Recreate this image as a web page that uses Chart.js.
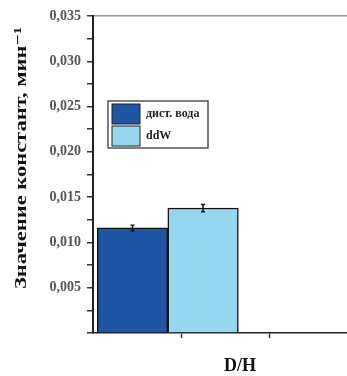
<!DOCTYPE html>
<html>
<head>
<meta charset="utf-8">
<script src="https://cdn.jsdelivr.net/npm/chart.js@4/dist/chart.umd.min.js"></script>
<style>
  html, body { margin: 0; padding: 0; background: #fff; }
  #wrap { width: 347px; height: 376px; }
</style>
</head>
<body>
<div id="wrap"><canvas id="barChart"></canvas></div>
<script>
const seriesNames = ['дист. вода', 'ddW'];
const seriesValues = [0.0116, 0.0138];
const seriesErrors = [0.0003, 0.0004];
const seriesColors = ['#1e55a5', '#96d7f0'];
const yTicks = [0, 0.005, 0.010, 0.015, 0.020, 0.025, 0.030, 0.035];
const yTitle = 'Значение констант, мин⁻¹';
const xTitle = 'D/H';

const serif = '"Liberation Serif", "DejaVu Serif", serif';

// error bars on top of each bar
const errorBars = {
    id: 'errorBars',
    afterDatasetsDraw(chart) {
        const ctx = chart.ctx;
        const y = chart.scales.y;
        ctx.save();
        ctx.strokeStyle = '#111';
        ctx.lineWidth = 1.5;
        chart.data.datasets.forEach((ds, i) => {
            const bar = chart.getDatasetMeta(i).data[0];
            const v = seriesValues[i], e = seriesErrors[i];
            const top = y.getPixelForValue(v + e), bot = y.getPixelForValue(v - e);
            ctx.beginPath();
            ctx.moveTo(bar.x, top); ctx.lineTo(bar.x, bot);
            ctx.moveTo(bar.x - 2, top); ctx.lineTo(bar.x + 2, top);
            ctx.moveTo(bar.x - 2, bot); ctx.lineTo(bar.x + 2, bot);
            ctx.stroke();
        });
        ctx.restore();
    }
};

// boxed legend inside the plot + axis titles placed like the original
const boxLegend = {
    id: 'boxLegend',
    afterDraw(chart) {
        const ctx = chart.ctx;
        const x0 = 108, y0 = 101, w = 100, h = 47;
        ctx.save();
        ctx.fillStyle = '#fff';
        ctx.fillRect(x0, y0, w, h);
        ctx.strokeStyle = '#555';
        ctx.lineWidth = 1.5;
        ctx.strokeRect(x0, y0, w, h);
        ctx.font = 'bold 12px ' + serif;
        ctx.textBaseline = 'middle';
        seriesNames.forEach((name, i) => {
            const sy = y0 + 3 + i * 22;
            ctx.fillStyle = seriesColors[i];
            ctx.fillRect(x0 + 4, sy, 28, 20);
            ctx.strokeStyle = '#222';
            ctx.lineWidth = 1;
            ctx.strokeRect(x0 + 4, sy, 28, 20);
            ctx.fillStyle = '#222';
            ctx.fillText(name, x0 + 38, sy + 10);
        });

        // y title, stretched along the axis as in the source figure
        ctx.fillStyle = '#111';
        ctx.font = 'bold 17px ' + serif;
        ctx.textAlign = 'center';
        ctx.save();
        ctx.translate(22, 158);
        ctx.rotate(-Math.PI / 2);
        const tw = ctx.measureText(yTitle).width;
        ctx.scale(262 / tw, 1);
        ctx.fillText(yTitle, 0, 0);
        ctx.restore();

        ctx.font = 'bold 18px ' + serif;
        ctx.fillText(xTitle, 240, 366);
        ctx.restore();
    }
};

new Chart(document.getElementById('barChart'), {
    type: 'bar',
    data: {
        datasets: seriesNames.map((name, i) => ({
            label: name,
            data: [{ x: i, y: seriesValues[i] }],
            backgroundColor: seriesColors[i],
            borderColor: '#111',
            borderWidth: 1.5,
            borderSkipped: 'bottom',
            barPercentage: 1,
            categoryPercentage: 1,
            grouped: false
        }))
    },
    options: {
        responsive: true,
        maintainAspectRatio: false,
        animation: false,
        layout: { padding: { top: 16, right: 0, bottom: 0, left: 0 } },
        plugins: {
            legend: { display: false },
            tooltip: { enabled: false }
        },
        scales: {
            x: {
                type: 'linear',
                offset: false,
                min: -0.56,
                max: 3.04,
                afterBuildTicks: function(scale) {
                    scale.ticks = [{ value: scale.min + 1.25 }, { value: scale.min + 2.5 }];
                },
                afterFit: function(scale) { scale.height = 43; },
                ticks: { callback: () => '', padding: 0 },
                grid: { offset: false, drawOnChartArea: false, tickLength: 5, tickColor: '#333', tickWidth: 1.5 },
                border: { color: '#222', width: 1.5 }
            },
            y: {
                min: 0,
                max: 0.035,
                afterBuildTicks: function(scale) {
                    const t = [];
                    for (let i = 0; i <= 14; i++) t.push({ value: i * 0.0025 });
                    scale.ticks = t;
                },
                afterFit: function(scale) { scale.width = 93; },
                ticks: {
                    color: '#555',
                    padding: 6,
                    font: { family: serif, size: 14, weight: 'bold' },
                    callback: function(v) {
                        const k = Math.round(v / 0.0025);
                        if (k === 0 || k % 2) return '';
                        return (k * 0.0025).toFixed(3).replace('.', ',');
                    }
                },
                grid: {
                    tickLength: 6,
                    tickColor: '#333',
                    tickWidth: 1.5,
                    color: ctx => Math.abs(ctx.tick.value - yTicks[yTicks.length - 1]) < 1e-9 ? '#999' : 'rgba(0,0,0,0)',
                    lineWidth: 1.5
                },
                border: { color: '#222', width: 2 }
            }
        }
    },
    plugins: [errorBars, boxLegend]
});
</script>
</body>
</html>
